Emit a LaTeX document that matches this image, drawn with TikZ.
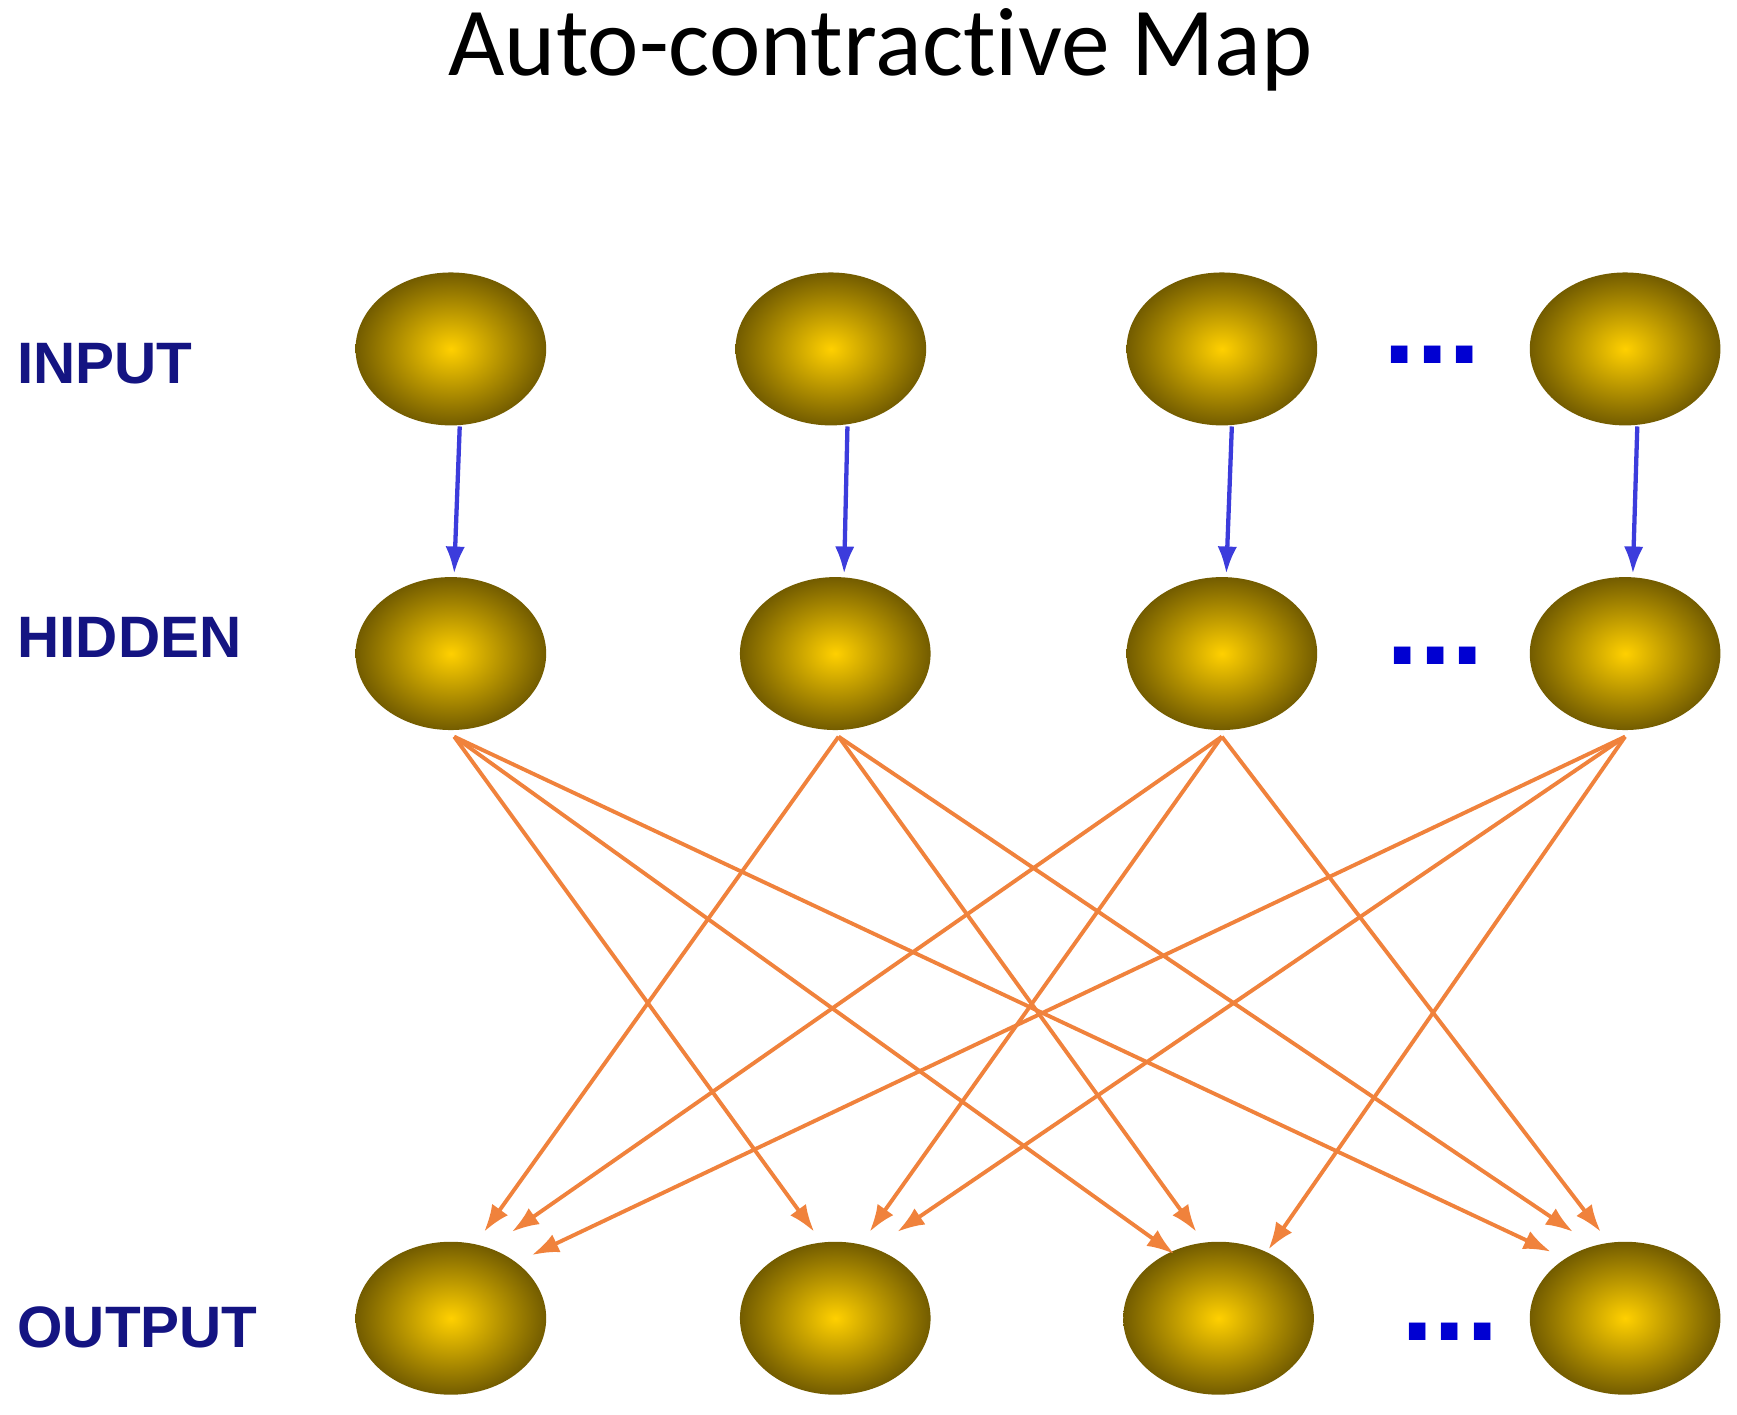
\documentclass[tikz,border=0pt]{standalone}
\usepackage{fontspec}
\setmainfont{Liberation Sans}
\newfontfamily\titlefont[Ligatures=CommonOff]{Carlito}
\usetikzlibrary{shapes.geometric,arrows.meta}
\begin{document}
\begin{tikzpicture}[x=0.01cm,y=-0.01cm,
  ball/.style={ellipse,inner sep=0pt,draw=none,minimum width=1.72cm,minimum height=1.38cm,inner color={rgb,255:red,255;green,208;blue,0},outer color={rgb,255:red,115;green,92;blue,0}},
  lbl/.style={anchor=west,font=\bfseries\fontsize{15pt}{15pt}\selectfont,text={rgb,255:red,20;green,20;blue,130},inner sep=0pt},
  dots/.style={font=\bfseries\fontsize{30pt}{30pt}\selectfont,text={rgb,255:red,0;green,0;blue,210},inner sep=0pt},
  blu/.style={draw={rgb,255:red,60;green,60;blue,220},line width=1.1pt,-{Latex[length=7pt,width=5pt]}},
  org/.style={draw={rgb,255:red,240;green,130;blue,60},line width=1pt,-{Latex[length=7pt,width=5pt]}}]
\useasboundingbox (0,0) rectangle (1568,1277);
\node[font=\titlefont\fontsize{25pt}{25pt}\selectfont] (title) at (795,45) {Auto-contractive Map};
\node[lbl] (lin) at (15,328) {INPUT};
\node[lbl] (lhid) at (15,575) {HIDDEN};
\node[lbl] (lout) at (15,1198) {OUTPUT};
\foreach \n/\x in {1/407,2/750,3/1103,4/1467}{\node[ball] (i\n) at (\x,315) {};}
\foreach \n/\x in {1/407,2/754,3/1103,4/1467}{\node[ball] (h\n) at (\x,590) {};}
\foreach \n/\x in {1/407,2/754,3/1100,4/1467}{\node[ball] (o\n) at (\x,1190) {};}
\node[dots] (d1) at (1293,320) {...};
\node[dots] (d2) at (1296,592) {...};
\node[dots] (d3) at (1309,1202) {...};
\foreach \n/\a/\b in {1/415/410,2/765/762,3/1112/1107,4/1478/1474}{
  \coordinate (ia\n) at (\a,385); \coordinate (hb\n) at (\b,518);
  \draw[blu] (ia\n) -- (hb\n);}
\foreach \n/\x in {1/410,2/757,3/1103,4/1467}{\coordinate (hs\n) at (\x,665);}
\coordinate (e12) at (735,1112); \coordinate (e13) at (1060,1132); \coordinate (e14) at (1400,1130);
\coordinate (e21) at (437,1112); \coordinate (e23) at (1080,1112); \coordinate (e24) at (1420,1112);
\coordinate (e31) at (462,1112); \coordinate (e32) at (785,1112); \coordinate (e34) at (1445,1112);
\coordinate (e41) at (480,1133); \coordinate (e42) at (810,1112); \coordinate (e43) at (1145,1128);
\foreach \a/\b in {1/2,1/3,1/4,2/1,2/3,2/4,3/1,3/2,3/4,4/1,4/2,4/3}{
  \draw[org] (hs\a) -- (e\a\b);}
\end{tikzpicture}
\end{document}
